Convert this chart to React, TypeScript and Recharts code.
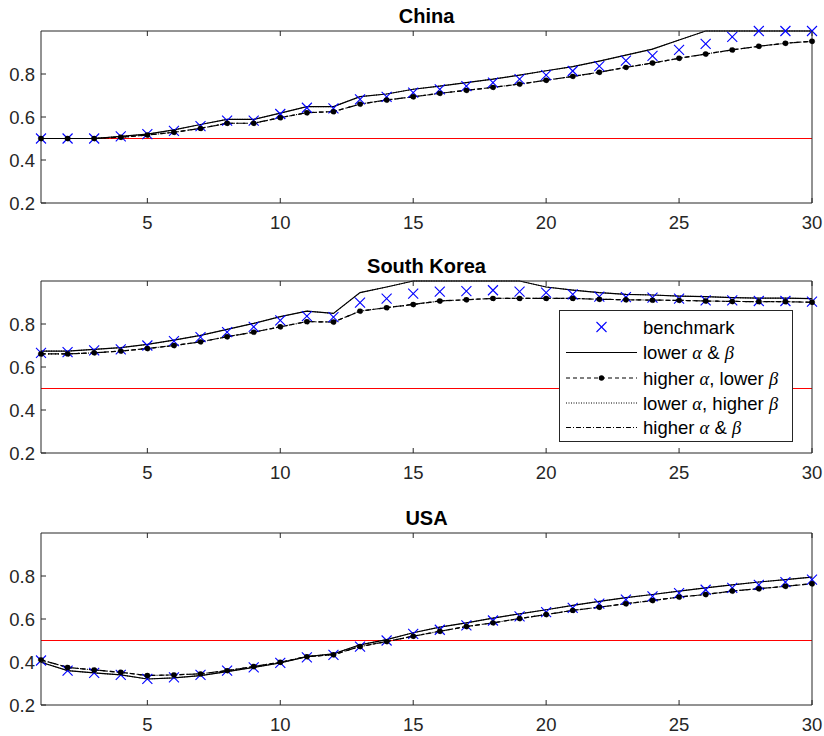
import { LineChart, Line, XAxis, YAxis } from 'recharts';

const periods = [1, 2, 3, 4, 5, 6, 7, 8, 9, 10, 11, 12, 13, 14, 15, 16, 17, 18, 19, 20, 21, 22, 23, 24, 25, 26, 27, 28, 29, 30];
const xTicks = [5, 10, 15, 20, 25, 30];
const yTicks = [0.2, 0.4, 0.6, 0.8];
const threshold = 0.5;
const thresholdSpan = [1, 30];

// China
const chinaBench = [0.50, 0.50, 0.50, 0.51, 0.52, 0.535, 0.558, 0.583, 0.583, 0.614, 0.643, 0.640, 0.682, 0.694, 0.713, 0.729, 0.744, 0.760, 0.776, 0.795, 0.814, 0.837, 0.862, 0.884, 0.912, 0.940, 0.973, 1.0, 1.0, 1.0];
const chinaLow = [0.50, 0.50, 0.50, 0.51, 0.52, 0.54, 0.565, 0.589, 0.589, 0.618, 0.648, 0.648, 0.695, 0.707, 0.729, 0.744, 0.760, 0.776, 0.795, 0.815, 0.834, 0.860, 0.888, 0.916, 0.958, 1.0, 1.0, 1.0, 1.0, 1.0];
const chinaHighAlpha = [0.50, 0.50, 0.50, 0.506, 0.516, 0.529, 0.547, 0.571, 0.571, 0.597, 0.620, 0.625, 0.660, 0.679, 0.694, 0.710, 0.724, 0.738, 0.753, 0.771, 0.789, 0.808, 0.831, 0.851, 0.873, 0.893, 0.912, 0.929, 0.943, 0.952];

// South Korea
const koreaBench = [0.666, 0.669, 0.677, 0.682, 0.700, 0.720, 0.739, 0.762, 0.787, 0.817, 0.837, 0.832, 0.899, 0.918, 0.941, 0.951, 0.953, 0.957, 0.951, 0.946, 0.938, 0.927, 0.925, 0.923, 0.918, 0.910, 0.910, 0.907, 0.907, 0.904];
const koreaLow = [0.674, 0.674, 0.682, 0.690, 0.705, 0.725, 0.747, 0.775, 0.803, 0.834, 0.860, 0.849, 0.946, 0.972, 1.0, 1.0, 1.0, 1.0, 1.0, 0.972, 0.958, 0.946, 0.938, 0.935, 0.930, 0.927, 0.923, 0.920, 0.920, 0.918];
const koreaHighAlpha = [0.661, 0.661, 0.666, 0.674, 0.686, 0.700, 0.717, 0.741, 0.762, 0.787, 0.811, 0.809, 0.860, 0.876, 0.891, 0.907, 0.913, 0.919, 0.919, 0.919, 0.919, 0.915, 0.913, 0.911, 0.910, 0.907, 0.905, 0.904, 0.904, 0.901];

// USA
const usaBench = [0.407, 0.360, 0.349, 0.340, 0.321, 0.329, 0.340, 0.360, 0.375, 0.396, 0.422, 0.433, 0.472, 0.500, 0.531, 0.550, 0.570, 0.593, 0.612, 0.632, 0.652, 0.671, 0.690, 0.705, 0.720, 0.736, 0.745, 0.759, 0.772, 0.783];
const usaLow = [0.399, 0.360, 0.349, 0.340, 0.321, 0.326, 0.337, 0.355, 0.375, 0.396, 0.425, 0.438, 0.480, 0.504, 0.536, 0.562, 0.582, 0.604, 0.624, 0.643, 0.663, 0.682, 0.699, 0.714, 0.730, 0.745, 0.759, 0.772, 0.783, 0.795];
const usaHighAlpha = [0.410, 0.375, 0.363, 0.352, 0.337, 0.340, 0.345, 0.360, 0.379, 0.399, 0.425, 0.434, 0.472, 0.495, 0.520, 0.543, 0.565, 0.582, 0.602, 0.621, 0.640, 0.655, 0.671, 0.686, 0.702, 0.714, 0.730, 0.741, 0.752, 0.764];

const AXIS = '#262626';
const RED = '#ff0000';
const FONT = '"Liberation Sans", Arial, Helvetica, sans-serif';
const GREEK = '"Liberation Serif", "DejaVu Serif", serif';

const panels = [
  { title: 'China', top: 0, bench: chinaBench, low: chinaLow, highA: chinaHighAlpha, lowHighB: chinaLow, highAB: chinaHighAlpha },
  { title: 'South Korea', top: 250, bench: koreaBench, low: koreaLow, highA: koreaHighAlpha, lowHighB: koreaLow, highAB: koreaHighAlpha },
  { title: 'USA', top: 502, bench: usaBench, low: usaLow, highA: usaHighAlpha, lowHighB: usaLow, highAB: usaHighAlpha },
];

const XMark = ({ cx, cy }: any) => {
  if (cx == null || cy == null) return null;
  const s = 5;
  return (
    <g>
      <line x1={cx - s} y1={cy - s} x2={cx + s} y2={cy + s} stroke="#0000ff" strokeWidth={1.1} />
      <line x1={cx - s} y1={cy + s} x2={cx + s} y2={cy - s} stroke="#0000ff" strokeWidth={1.1} />
    </g>
  );
};

const BottomTick = ({ x, y, payload }: any) => (
  <g>
    <line x1={x} x2={x} y1={y} y2={y - 5} stroke={AXIS} />
    <text x={x} y={y + 26} textAnchor="middle" fill={AXIS} fontSize={18.5} fontFamily={FONT}>{payload.value}</text>
  </g>
);
const TopTick = ({ x, y }: any) => <line x1={x} x2={x} y1={y} y2={y + 5} stroke={AXIS} />;
const LeftTick = ({ x, y, payload }: any) => (
  <g>
    <line x1={x} x2={x + 5} y1={y} y2={y} stroke={AXIS} />
    <text x={x - 6} y={y + 6.5} textAnchor="end" fill={AXIS} fontSize={18.5} fontFamily={FONT}>{Number(payload.value).toFixed(1)}</text>
  </g>
);
const RightTick = ({ x, y }: any) => <line x1={x} x2={x - 5} y1={y} y2={y} stroke={AXIS} />;

function Panel({ p }: any) {
  const rows = periods.map((t, i) => ({
    t,
    bench: p.bench[i],
    low: p.low[i],
    highA: p.highA[i],
    lowHighB: p.lowHighB[i],
    highAB: p.highAB[i],
  }));
  const refRows = thresholdSpan.map((t) => ({ t, ref: threshold }));
  return (
    <div style={{ position: 'absolute', left: 0, top: p.top }}>
      <LineChart width={824} height={245} data={rows} margin={{ top: 0, right: 0, bottom: 0, left: 0 }}>
        <XAxis dataKey="t" type="number" domain={[1, 30]} ticks={xTicks} interval={0} height={42}
          stroke={AXIS} tickLine={false} tickSize={0} tickMargin={0} tick={<BottomTick />} />
        <XAxis xAxisId="top" orientation="top" dataKey="t" type="number" domain={[1, 30]} ticks={xTicks} interval={0} height={31}
          stroke={AXIS} tickLine={false} tickSize={0} tickMargin={0} tick={<TopTick />} />
        <YAxis type="number" domain={[0.2, 1]} ticks={yTicks} interval={0} width={41}
          stroke={AXIS} tickLine={false} tickSize={0} tickMargin={0} tick={<LeftTick />} />
        <YAxis yAxisId="right" orientation="right" type="number" domain={[0.2, 1]} ticks={yTicks} interval={0} width={12}
          stroke={AXIS} tickLine={false} tickSize={0} tickMargin={0} tick={<RightTick />} />
        <Line data={refRows} dataKey="ref" stroke={RED} strokeWidth={1} dot={false} activeDot={false} isAnimationActive={false} />
        <Line dataKey="bench" stroke="none" dot={<XMark />} activeDot={false} isAnimationActive={false} />
        <Line dataKey="low" stroke="#000" strokeWidth={1.2} dot={false} activeDot={false} isAnimationActive={false} />
        <Line dataKey="highA" stroke="#000" strokeWidth={1.2} strokeDasharray="4 3"
          dot={{ r: 2.7, fill: '#000', stroke: '#000', strokeWidth: 0.5 }} activeDot={false} isAnimationActive={false} />
        <Line dataKey="lowHighB" stroke="#000" strokeWidth={1} strokeDasharray="1 1.5" dot={false} activeDot={false} isAnimationActive={false} />
        <Line dataKey="highAB" stroke="#000" strokeWidth={1.2} strokeDasharray="5 2 1 2" dot={false} activeDot={false} isAnimationActive={false} />
      </LineChart>
    </div>
  );
}

const Greek = ({ c }: { c: string }) => <tspan fontFamily={GREEK} fontStyle="italic">{c}</tspan>;

function Overlay() {
  const rowY = [327, 352.5, 378, 403, 427.5];
  const lx1 = 566;
  const lx2 = 637;
  const tx = 643;
  return (
    <svg width={824} height={736} style={{ position: 'absolute', left: 0, top: 0, pointerEvents: 'none' }}>
      {panels.map((p) => (
        <text key={p.title} x={426.5} y={p.top + 23} textAnchor="middle" fontFamily={FONT} fontWeight="bold" fontSize={20} fill="#000">
          {p.title}
        </text>
      ))}
      <rect x={559.5} y={310.5} width={233} height={131} fill="#fff" stroke={AXIS} strokeWidth={1} />
      <XMark cx={(lx1 + lx2) / 2} cy={rowY[0]} />
      <line x1={lx1} x2={lx2} y1={rowY[1]} y2={rowY[1]} stroke="#000" strokeWidth={1.2} />
      <line x1={lx1} x2={lx2} y1={rowY[2]} y2={rowY[2]} stroke="#000" strokeWidth={1.2} strokeDasharray="4 3" />
      <circle cx={(lx1 + lx2) / 2} cy={rowY[2]} r={2.7} fill="#000" />
      <line x1={lx1} x2={lx2} y1={rowY[3]} y2={rowY[3]} stroke="#000" strokeWidth={1} strokeDasharray="1 1.5" />
      <line x1={lx1} x2={lx2} y1={rowY[4]} y2={rowY[4]} stroke="#000" strokeWidth={1.2} strokeDasharray="5 2 1 2" />
      <g fontFamily={FONT} fontSize={18.5} fill="#000">
        <text x={tx} y={rowY[0] + 6.5}>benchmark</text>
        <text x={tx} y={rowY[1] + 6.5}>lower <Greek c="α" /> &amp; <Greek c="β" /></text>
        <text x={tx} y={rowY[2] + 6.5}>higher <Greek c="α" />, lower <Greek c="β" /></text>
        <text x={tx} y={rowY[3] + 6.5}>lower <Greek c="α" />, higher <Greek c="β" /></text>
        <text x={tx} y={rowY[4] + 6.5}>higher <Greek c="α" /> &amp; <Greek c="β" /></text>
      </g>
    </svg>
  );
}

export default function App() {
  return (
    <div style={{ position: 'relative', width: 824, height: 736, background: '#fff' }}>
      <style>{'body{margin:0;}'}</style>
      {panels.map((p) => (
        <Panel key={p.title} p={p} />
      ))}
      <Overlay />
    </div>
  );
}
